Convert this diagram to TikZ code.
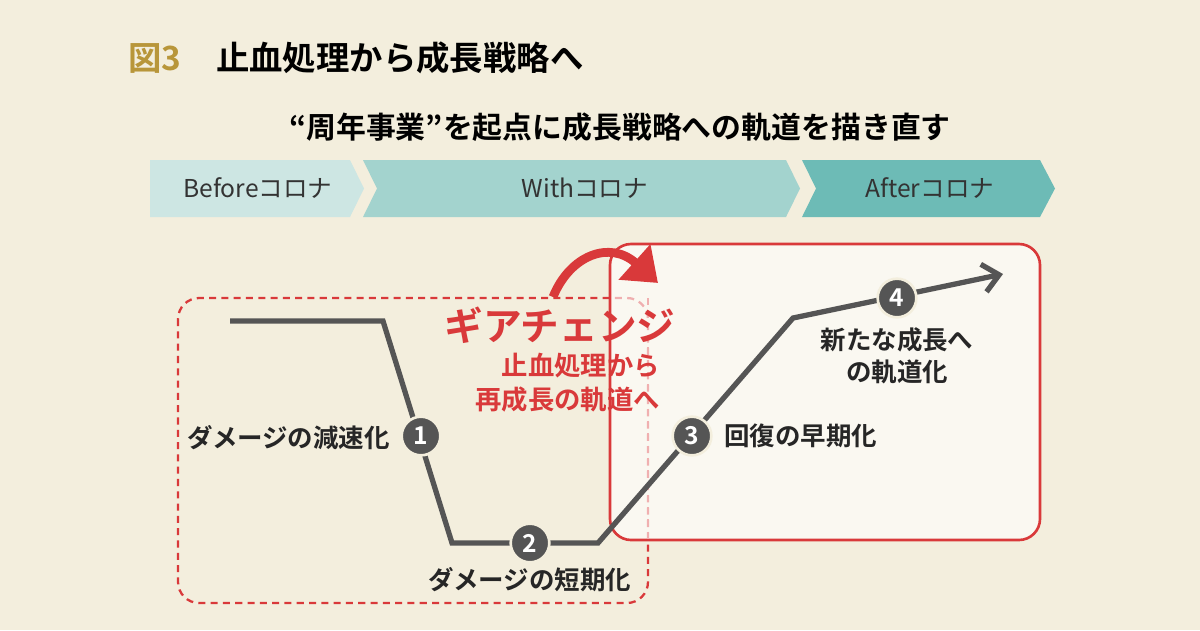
\documentclass[tikz,border=0pt]{standalone}
\usepackage{fontspec}
\setmainfont{Noto Sans CJK JP}[BoldFont={* Bold}]
\usetikzlibrary{arrows.meta}
\definecolor{bg}{HTML}{F3EEDD}
\definecolor{gold}{HTML}{B8963A}
\definecolor{redc}{HTML}{D9393A}
\definecolor{ga}{HTML}{CDE6E3}
\definecolor{gb}{HTML}{A3D3CE}
\definecolor{gc}{HTML}{6DBBB6}
\definecolor{lg}{HTML}{555555}
\tikzset{
 num/.style={circle,fill=lg,text=white,font=\bfseries\fontsize{14}{14}\selectfont,inner sep=0pt,minimum size=22pt,draw=bg,line width=1.5pt},
 lbl/.style={font=\bfseries\fontsize{14.5}{18}\selectfont,text=black!85},
 bandtxt/.style={font=\fontsize{14}{14}\selectfont,text=black!80},
}
\begin{document}
\begin{tikzpicture}[x=0.02cm,y=-0.02cm]
\fill[bg] (0,0) rectangle (1200,630);
\useasboundingbox (0,0) rectangle (1200,630);
\node[anchor=west,font=\bfseries\fontsize{19}{19}\selectfont,text=gold] (fig) at (122,58) {図3};
\node[anchor=west,font=\bfseries\fontsize{19}{19}\selectfont] (title) at (210,58) {止血処理から成長戦略へ};
\node[font=\bfseries\fontsize{17}{17}\selectfont] (sub) at (620,127) {“周年事業”を起点に成長戦略への軌道を描き直す};
\fill[ga] (150,160) -- (350,160) -- (364,188.5) -- (350,217) -- (150,217) -- cycle;
\fill[gb] (363,160) -- (786,160) -- (800,188.5) -- (786,217) -- (363,217) -- (377,188.5) -- cycle;
\fill[gc] (802,160) -- (1040,160) -- (1055,188.5) -- (1040,217) -- (802,217) -- (816,188.5) -- cycle;
\node[bandtxt] (b1) at (258,188.5) {Beforeコロナ};
\node[bandtxt] (b2) at (585,188.5) {Withコロナ};
\node[bandtxt] (b3) at (930,188.5) {Afterコロナ};
\draw[redc,line width=1.3pt,dash pattern=on 4pt off 3pt,rounded corners=12pt] (178,298) rectangle (648,603);
\draw[redc,line width=1.5pt,fill=white,fill opacity=0.6,rounded corners=12pt] (610,244) rectangle (1040,540);
\draw[redc!40,line width=1.3pt,dash pattern=on 4pt off 3pt] (648,298) -- (648,540);
\coordinate (p0) at (230,321);
\coordinate (p1) at (383,321);
\coordinate (p2) at (452,543);
\coordinate (p3) at (598,543);
\coordinate (p4) at (793,318);
\coordinate (p5) at (1003,274);
\draw[lg,line width=3pt,-{Straight Barb[length=9pt,width=16pt]}] (p0) -- (p1) -- (p2) -- (p3) -- (p4) -- (p5);
\node[num] (n1) at (421,436) {1};
\node[num] (n2) at (530,543) {2};
\node[num] (n3) at (692,436) {3};
\node[num] (n4) at (897,298) {4};
\node[lbl,anchor=east] (l1) at (396,438) {ダメージの減速化};
\node[lbl] (l2) at (530,580) {ダメージの短期化};
\node[lbl,anchor=west] (l3) at (718,436) {回復の早期化};
\node[lbl,align=center] (l4) at (897,356) {新たな成長へ\\の軌道化};
\node[font=\bfseries\fontsize{22}{22}\selectfont,text=redc] (g1) at (560,325) {ギアチェンジ};
\node[font=\bfseries\fontsize{15}{19}\selectfont,text=redc,align=right,anchor=north east] (g2) at (666,347) {止血処理から\\再成長の軌道へ};
\coordinate (a0) at (553,297);
\coordinate (a1) at (658,283);
\draw[redc,line width=5pt,-{Triangle[length=18pt,width=26pt]}] (a0) .. controls (570,255) and (610,240) .. (a1);
\end{tikzpicture}
\end{document}
